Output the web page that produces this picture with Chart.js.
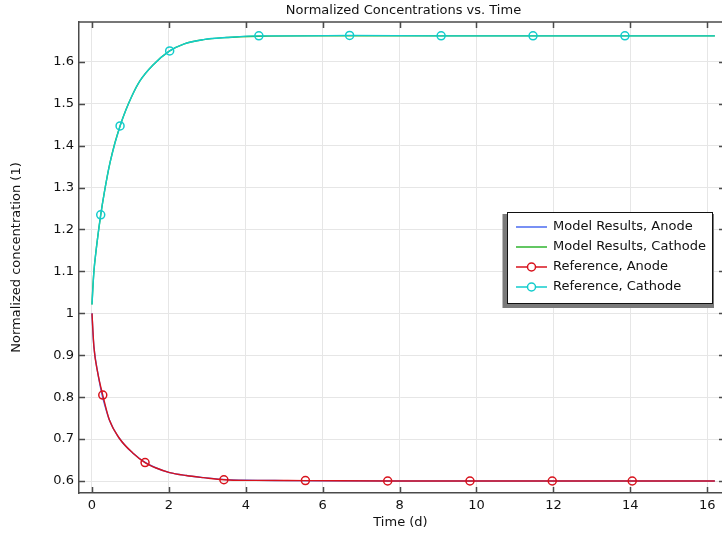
<!DOCTYPE html>
<html>
<head>
<meta charset="utf-8">
<script src="https://cdn.jsdelivr.net/npm/chart.js@4.4.1/dist/chart.umd.min.js"></script>
<style>
  html, body { margin: 0; padding: 0; background: #ffffff; }
  #wrap { width: 722px; height: 534px; }
</style>
</head>
<body>
<div id="wrap"><canvas id="c" width="722" height="534"></canvas></div>
<script>
// ---- Data ----
const chartTitle = 'Normalized Concentrations vs. Time';
const xAxisTitle = 'Time (d)';
const yAxisTitle = 'Normalized concentration (1)';
const seriesLabels = ['Model Results, Anode', 'Model Results, Cathode', 'Reference, Anode', 'Reference, Cathode'];

const modelAnodeT = [0, 0.02, 0.05, 0.1, 0.15, 0.26, 0.35, 0.45, 0.58, 0.71, 0.88, 1.06, 1.37, 1.67, 2.02, 2.45, 2.9, 3.4, 4.0, 5.0, 6.0, 8.0, 10.0, 12.0, 14.0, 16.2];
const modelAnodeY = [1.0, 0.96, 0.92, 0.885, 0.858, 0.806, 0.775, 0.746, 0.721, 0.702, 0.683, 0.667, 0.645, 0.631, 0.620, 0.613, 0.608, 0.604, 0.602, 0.601, 0.6005, 0.600, 0.600, 0.600, 0.600, 0.600];

const modelCathodeT = [0, 0.02, 0.05, 0.1, 0.15, 0.227, 0.32, 0.47, 0.6, 0.73, 0.88, 1.035, 1.25, 1.58, 2.0, 2.4, 2.9, 3.5, 4.34, 5.5, 7.0, 10.0, 13.0, 16.2];
const modelCathodeY = [1.021, 1.058, 1.10, 1.145, 1.183, 1.235, 1.288, 1.36, 1.408, 1.447, 1.485, 1.518, 1.555, 1.592, 1.625, 1.643, 1.653, 1.658, 1.661, 1.662, 1.662, 1.662, 1.662, 1.662];

const refAnodeT = [0, 0.05, 0.15, 0.28, 0.45, 0.71, 1.06, 1.38, 1.67, 2.02, 2.45, 2.9, 3.43, 4.2, 5.55, 7.69, 9.83, 11.97, 14.05, 16.2];
const refAnodeY = [1.0, 0.92, 0.858, 0.805, 0.746, 0.702, 0.667, 0.644, 0.631, 0.620, 0.613, 0.608, 0.603, 0.6015, 0.601, 0.600, 0.600, 0.600, 0.600, 0.600];
const refAnodeMarkers = [3, 7, 12, 14, 15, 16, 17, 18];

const refCathodeT = [0, 0.05, 0.1, 0.227, 0.32, 0.47, 0.73, 1.035, 1.25, 1.58, 2.02, 2.4, 2.9, 3.5, 4.34, 5.5, 6.7, 9.08, 11.47, 13.86, 16.2];
const refCathodeY = [1.021, 1.10, 1.145, 1.235, 1.288, 1.36, 1.447, 1.518, 1.555, 1.592, 1.626, 1.643, 1.653, 1.658, 1.662, 1.662, 1.663, 1.662, 1.662, 1.662, 1.662];
const refCathodeMarkers = [3, 6, 10, 14, 16, 17, 18, 19];

const xTickStep = 2;
const yTickStep = 0.1;
const xRange = [-0.338, 16.385];
const yRange = [0.5714, 1.695];

// ---- Styles ----
const colors = ['#4b6bf0', '#2fb52f', '#d8121c', '#12cccc'];
const FONT = "'DejaVu Sans', sans-serif";
const FS = 13;

function pts(xs, ys) { return xs.map((x, i) => ({ x: x, y: ys[i] })); }
function markerRadius(list) {
  return ctx => (list.indexOf(ctx.dataIndex) >= 0 ? 4 : 0);
}

const datasets = [
  { label: seriesLabels[0], data: pts(modelAnodeT, modelAnodeY), borderColor: colors[0], borderWidth: 1.4, pointRadius: 0, order: 2, isRef: false },
  { label: seriesLabels[1], data: pts(modelCathodeT, modelCathodeY), borderColor: colors[1], borderWidth: 1.4, pointRadius: 0, order: 2, isRef: false },
  { label: seriesLabels[2], data: pts(refAnodeT, refAnodeY), borderColor: colors[2], borderWidth: 1.4,
    pointRadius: markerRadius(refAnodeMarkers), pointBorderColor: colors[2], pointBackgroundColor: 'rgba(0,0,0,0)', pointBorderWidth: 1.5, order: 1, isRef: true },
  { label: seriesLabels[3], data: pts(refCathodeT, refCathodeY), borderColor: colors[3], borderWidth: 1.4,
    pointRadius: markerRadius(refCathodeMarkers), pointBorderColor: colors[3], pointBackgroundColor: 'rgba(0,0,0,0)', pointBorderWidth: 1.5, order: 1, isRef: true }
];
datasets.forEach(d => { d.fill = false; d.cubicInterpolationMode = 'monotone'; d.pointHoverRadius = 0; });

const framePlugin = {
  id: 'frame',
  afterDraw(chart) {
    const ctx = chart.ctx;
    const a = chart.chartArea;
    const xs = chart.scales.x, ys = chart.scales.y;
    ctx.save();
    // frame (top line)
    ctx.strokeStyle = '#4a4a4a';
    ctx.lineWidth = 1.5;
    ctx.beginPath();
    ctx.moveTo(a.left, a.top); ctx.lineTo(a.right, a.top);
    ctx.stroke();
    // inward ticks
    ctx.lineWidth = 1.5;
    ctx.beginPath();
    xs.ticks.forEach(t => {
      const px = Math.round(xs.getPixelForValue(t.value)) + 0.5;
      ctx.moveTo(px, a.bottom); ctx.lineTo(px, a.bottom - 6);
      ctx.moveTo(px, a.top); ctx.lineTo(px, a.top + 6);
    });
    ys.ticks.forEach(t => {
      const py = Math.round(ys.getPixelForValue(t.value)) + 0.5;
      ctx.moveTo(a.left, py); ctx.lineTo(a.left + 6, py);
      ctx.moveTo(a.right, py); ctx.lineTo(a.right - 3, py);
    });
    ctx.stroke();
    // title
    ctx.fillStyle = '#111';
    ctx.font = FS + 'px ' + FONT;
    ctx.textAlign = 'center';
    ctx.textBaseline = 'middle';
    ctx.fillText(chartTitle, (a.left + a.right) / 2 + 3, 11);
    // legend
    const bx = 507, by = 212, bw = 205, bh = 91;
    ctx.fillStyle = '#7a7a7a';
    ctx.fillRect(bx - 4.5, by + 2, bw + 6.5, bh + 3);
    ctx.fillStyle = '#ffffff';
    ctx.fillRect(bx, by, bw, bh);
    ctx.strokeStyle = '#111';
    ctx.lineWidth = 1;
    ctx.strokeRect(bx + 0.5, by + 0.5, bw, bh);
    chart.data.datasets.forEach((d, i) => {
      const cy = 227 + i * 20;
      ctx.strokeStyle = d.borderColor;
      ctx.lineWidth = 1.5;
      ctx.beginPath();
      ctx.moveTo(516, cy); ctx.lineTo(547, cy);
      ctx.stroke();
      if (d.isRef) {
        ctx.fillStyle = '#ffffff';
        ctx.beginPath();
        ctx.arc(531.5, cy, 4, 0, Math.PI * 2);
        ctx.fill();
        ctx.lineWidth = 1.5;
        ctx.stroke();
      }
      ctx.fillStyle = '#111';
      ctx.textAlign = 'left';
      ctx.textBaseline = 'middle';
      ctx.font = FS + 'px ' + FONT;
      ctx.fillText(d.label, 553, cy);
    });
    ctx.restore();
  }
};

function fmt(v) { return String(parseFloat(Number(v).toFixed(3))); }

new Chart(document.getElementById('c'), {
  type: 'line',
  data: { datasets: datasets },
  options: {
    responsive: false,
    animation: false,
    devicePixelRatio: 1,
    layout: { padding: { top: 22, right: 0, left: 0, bottom: 0 } },
    plugins: { legend: { display: false }, title: { display: false }, tooltip: { enabled: false } },
    scales: {
      x: {
        type: 'linear',
        min: xRange[0], max: xRange[1],
        afterFit: s => { s.height = 41; },
        ticks: { stepSize: xTickStep, includeBounds: false, padding: 5, color: '#111', font: { family: FONT, size: FS }, maxRotation: 0, callback: fmt },
        grid: { color: '#e6e6e6', lineWidth: 1, drawTicks: false },
        border: { color: '#4a4a4a', width: 1.5 },
        title: { display: true, text: xAxisTitle, color: '#111', font: { family: FONT, size: FS }, padding: { top: 0, bottom: 4 } }
      },
      y: {
        type: 'linear',
        min: yRange[0], max: yRange[1],
        afterFit: s => { s.width = 79; },
        ticks: { stepSize: yTickStep, includeBounds: false, padding: 5, color: '#111', font: { family: FONT, size: FS }, callback: fmt },
        grid: { color: '#e6e6e6', lineWidth: 1, drawTicks: false },
        border: { color: '#4a4a4a', width: 1.5 },
        title: { display: true, text: yAxisTitle, color: '#111', font: { family: FONT, size: FS }, padding: { top: 9, bottom: 0 } }
      }
    }
  },
  plugins: [framePlugin]
});
</script>
</body>
</html>
